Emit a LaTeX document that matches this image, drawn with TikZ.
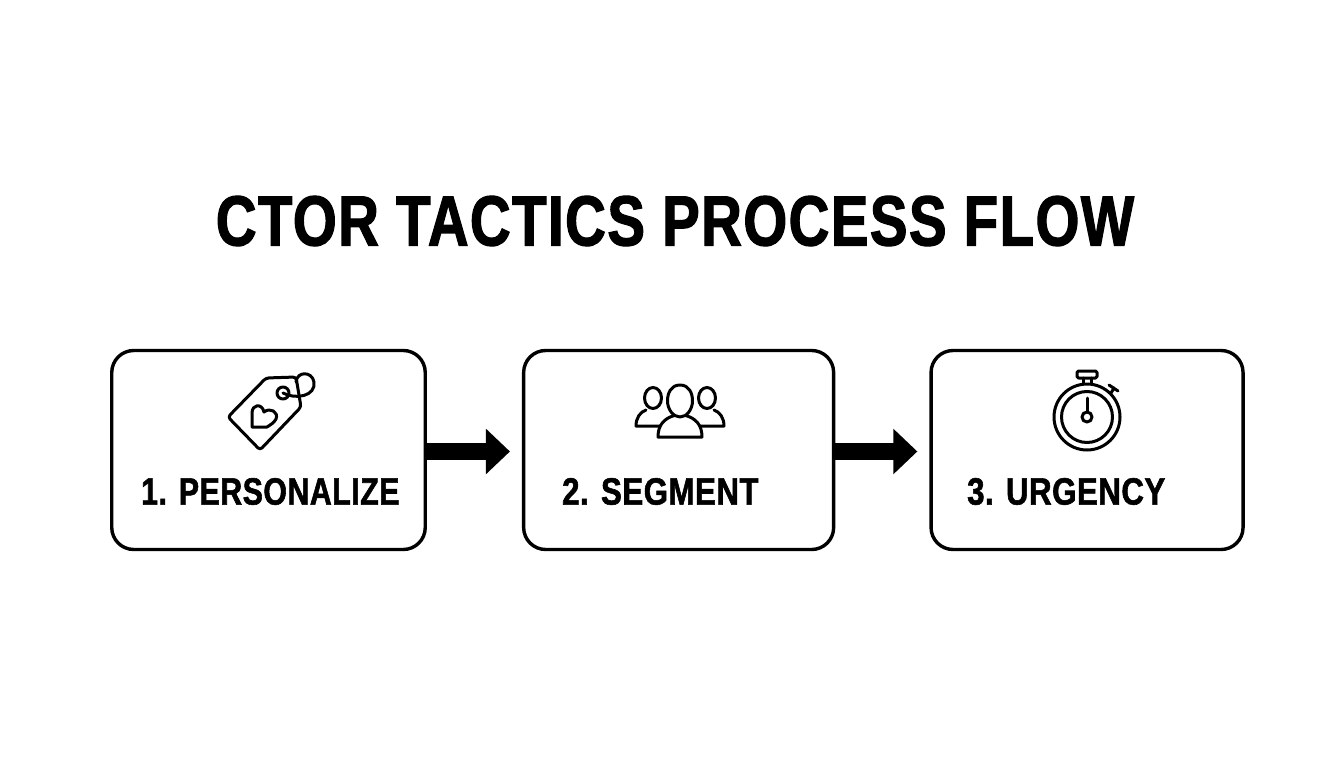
\documentclass[tikz,border=0pt]{standalone}
\usepackage{fontspec}
\newfontfamily\headfont[FakeStretch=0.795,LetterSpace=2,FakeBold=1.6]{Liberation Sans Bold}
\newfontfamily\labelfont[FakeStretch=0.82,LetterSpace=1.5,FakeBold=1.5]{Liberation Sans Bold}
\newfontfamily\longlabelfont[FakeStretch=0.795,LetterSpace=1.5,FakeBold=1.5]{Liberation Sans Bold}
\usetikzlibrary{arrows.meta, positioning}

\begin{document}
\begin{tikzpicture}[
    x=1pt, y=-1pt,
    stepbox/.style={draw, line width=3.4pt, rounded corners=22pt, minimum height=199pt, fill=white},
    steplabel/.style={anchor=west, inner sep=0pt, font=\labelfont\fontsize{38}{38}\selectfont},
    flow/.style={-{Triangle[length=24pt, width=44pt]}, line width=17pt, shorten >=12pt},
    icon/.style={line width=3pt, line join=round, line cap=round},
    node distance=95pt
]
    \useasboundingbox (0,0) rectangle (1344,768);

    % Title
    \node[inner sep=0pt, font=\headfont\fontsize{71}{71}\selectfont] (title) at (675,221) {CTOR TACTICS PROCESS FLOW};

    % Step boxes
    \node[stepbox, minimum width=313.5pt] (personalize) at (268.5,450) {};
    \node[stepbox, minimum width=310pt, right=of personalize] (segment) {};
    \node[stepbox, minimum width=312pt, right=94pt of segment] (urgency) {};

    % Step labels
    \node[steplabel, font=\longlabelfont\fontsize{38}{38}\selectfont] (personalizetext) at (141,491.5) {1. PERSONALIZE};
    \node[steplabel] (segmenttext) at (562,491.5) {2. SEGMENT};
    \node[steplabel] (urgencytext) at (967,491.5) {3. URGENCY};

    % Arrows between the boxes
    \draw[flow] ([yshift=-1.5pt]personalize.east) -- ([yshift=-1.5pt]segment.west);
    \draw[flow] ([yshift=-1.5pt]segment.east) -- ([yshift=-1.5pt]urgency.west);

    % Tag icon
    \draw[icon, rounded corners=3pt] (228,417) -- (266,378) -- (296,377) -- (301,407) -- (260,450) -- cycle;
    \draw[icon] (283,393) circle (6);
    \draw[icon] (283,393) .. controls (296,400) and (316,396) .. (314,382) .. controls (312,371) and (297,371) .. (296,382);
    \draw[icon] (252,427) -- (252,413) .. controls (252,404) and (262,403) .. (264,412) .. controls (270,407) and (279,412) .. (276,419) .. controls (274,423) and (270,425) .. (267,427) -- cycle;

    % People icon
    \draw[icon] (653,398) ellipse (8.5 and 10.5);
    \draw[icon] (646,410) .. controls (640,412) and (636,418) .. (636,426) -- (662,426);
    \draw[icon] (707,398) ellipse (8.5 and 10.5);
    \draw[icon] (714,410) .. controls (720,412) and (724,418) .. (724,426) -- (698,426);
    \draw[icon, fill=white] (658,437) .. controls (658,425) and (664,418) .. (676,415) -- (684,415) .. controls (696,418) and (702,425) .. (702,437) -- cycle;
    \draw[icon, fill=white] (680,385) .. controls (671,385) and (667.5,393) .. (667.5,401) .. controls (667.5,409) and (673,417) .. (680,417) .. controls (687,417) and (692.5,409) .. (692.5,401) .. controls (692.5,393) and (689,385) .. (680,385) -- cycle;

    % Stopwatch icon
    \draw[icon] (1087,417) circle (33);
    \draw[icon] (1087,417) circle (25.5);
    \draw[icon] (1087,417) circle (5);
    \draw[icon] (1087,412) -- (1087,398);
    \draw[icon, rounded corners=1.5pt] (1077,371) rectangle (1097,378);
    \draw[icon] (1083,378) -- (1083,384) (1091,378) -- (1091,384);
    \draw[icon] (1111,393) -- (1114,388) (1109,385) -- (1118,391);
\end{tikzpicture}
\end{document}
